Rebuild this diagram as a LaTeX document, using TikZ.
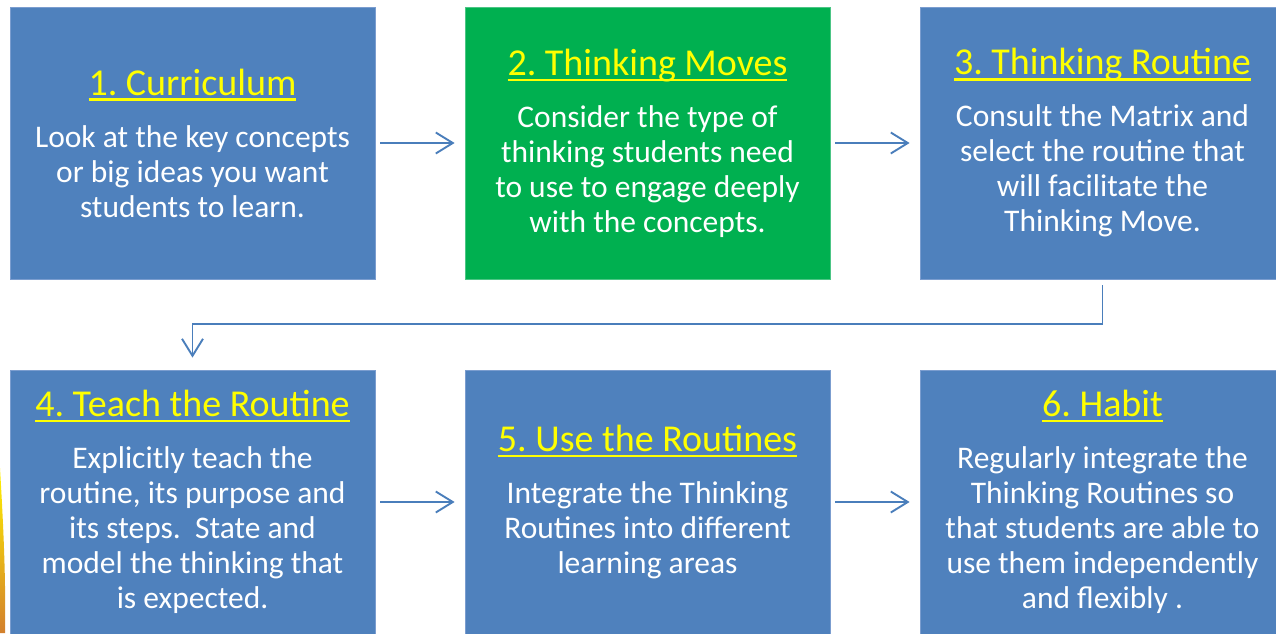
\documentclass[tikz,border=0pt]{standalone}
\usepackage{fontspec}
\setmainfont{Carlito}
\usepackage{xcolor}
\usetikzlibrary{arrows.meta}
\definecolor{boxblue}{HTML}{4F81BD}
\definecolor{boxedge}{HTML}{7B9DCF}
\definecolor{movegreen}{HTML}{00B050}
\definecolor{moveedge}{HTML}{4CC585}
\definecolor{titleyellow}{HTML}{FFFF00}
\definecolor{arrowblue}{HTML}{4A7EBB}
\frenchspacing
% yellow underlined heading, then the gap down to the body text
\newcommand{\steptitle}[1]{{\fontsize{38}{42}\selectfont\color{titleyellow}%
  \setbox0\hbox{#1}\rlap{\rule[-5.8pt]{\wd0}{2.4pt}}\box0}\\[17pt]}

\begin{document}
\begin{tikzpicture}[x=1pt, y=-1pt,
  stepbox/.style={draw=boxedge, line width=0.8pt, fill=boxblue, text=white,
    minimum width=365pt, minimum height=272pt, inner sep=0pt, align=center,
    font=\fontsize{31.5}{35}\selectfont},
  movebox/.style={stepbox, fill=movegreen, draw=moveedge},
  lowbox/.style={stepbox, minimum height=264pt},
  flow/.style={draw=arrowblue, line width=1.9pt,
    -{Straight Barb[length=17pt,width=21pt]}, shorten <=5pt, shorten >=10pt}]
\useasboundingbox (0,0) rectangle (1276,633);
% Flame edge peeking in at the left
\shade[top color=yellow!90!orange, bottom color=brown!70!orange]
    (0,468) .. controls (3,520) and (6,575) .. (5,633) -- (0,633) -- cycle;
% Top row
\node[stepbox] (curriculum) at (192.5,143)
    {\steptitle{1. Curriculum}Look at the key concepts\\or big ideas you want\\students to learn.};
\node[movebox] (moves) at (647.5,143)
    {\steptitle{2. Thinking Moves}Consider the type of\\thinking students need\\to use to engage deeply\\with the concepts.};
\node[stepbox] (routine) at (1102.5,143)
    {\steptitle{3. Thinking Routine}Consult the Matrix and\\select the routine that\\will facilitate the\\Thinking Move.};
% Bottom row
\node[lowbox] (teach) at (192.5,502)
    {\steptitle{4. Teach the Routine}Explicitly teach the\\routine, its purpose and\\its steps.\ \ State and\\model the thinking that\\is expected.};
\node[lowbox] (use) at (647.5,502)
    {\steptitle{5. Use the Routines}Integrate the Thinking\\Routines into different\\learning areas};
\node[lowbox] (habit) at (1102.5,502)
    {\steptitle{6. Habit}Regularly integrate the\\Thinking Routines so\\that students are able to\\use them independently\\and flexibly .};
% Connectors
\draw[flow] (curriculum.east) -- (moves.west);
\draw[flow] (moves.east) -- (routine.west);
\draw[flow, shorten <=6pt, shorten >=12pt] (routine.south) -- ++(0,45) -| (teach.north);
\draw[flow] (teach.east) -- (use.west);
\draw[flow] (use.east) -- (habit.west);
\end{tikzpicture}
\end{document}
